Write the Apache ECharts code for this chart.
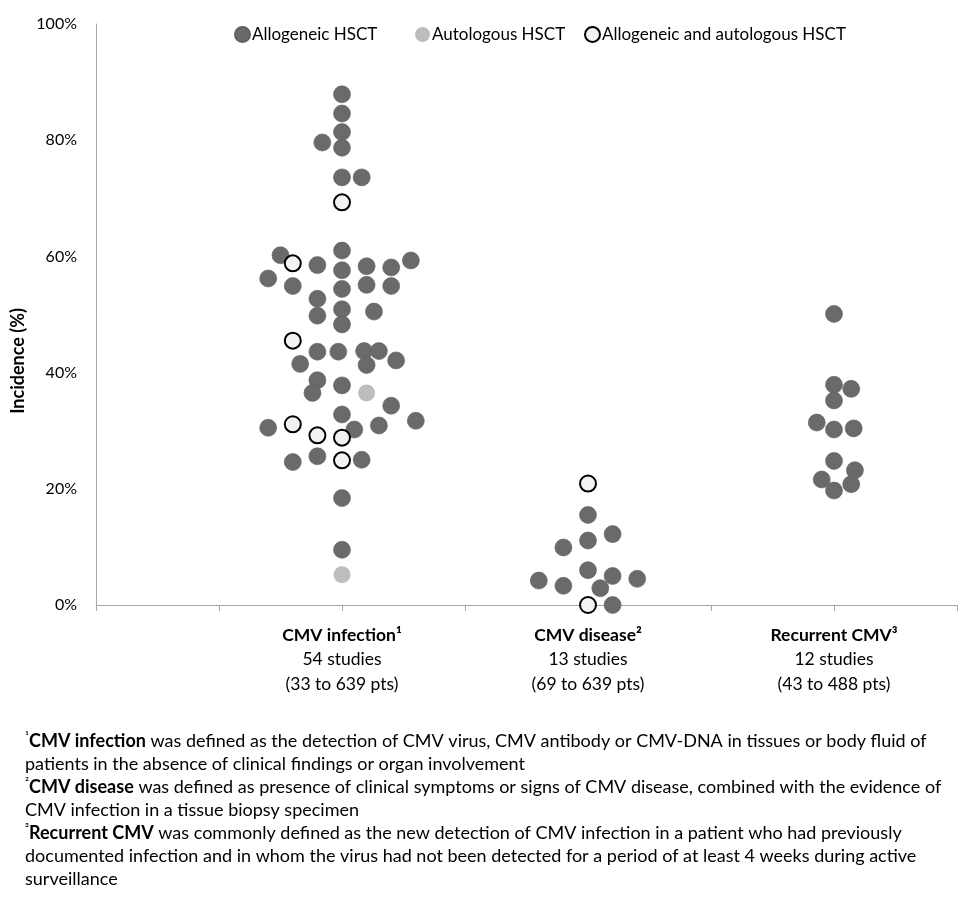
<!DOCTYPE html>
<html>
<head>
<meta charset="utf-8">
<script src="https://cdn.jsdelivr.net/npm/echarts@6/dist/echarts.min.js"></script>
<style>
html,body{margin:0;padding:0;background:#fff;}
#chart{width:976px;height:908px;}
</style>
</head>
<body>
<div id="chart"></div>
<script>
// ---- data (x = position on the beeswarm axis, y = incidence %) ----
const allogeneic = [
  // CMV infection
  [2.0,87.9],[2.0,84.6],[2.0,81.4],[1.84,79.6],[2.0,78.7],[2.0,73.6],[2.16,73.6],
  [2.0,61.0],[1.5,60.2],[1.8,58.5],[2.0,57.6],[2.2,58.3],[2.4,58.1],[2.56,59.3],
  [1.4,56.2],[1.6,54.9],[2.0,54.4],[2.2,55.1],[2.4,54.9],[1.8,52.7],[1.8,49.8],
  [2.0,50.9],[2.26,50.5],[2.0,48.3],[1.8,43.6],[1.97,43.6],[2.18,43.7],[2.3,43.7],
  [2.44,42.1],[1.66,41.5],[2.2,41.3],[1.8,38.7],[2.0,37.8],[1.76,36.5],[2.4,34.3],
  [2.0,32.8],[2.6,31.7],[1.4,30.5],[2.1,30.2],[2.3,30.9],[1.6,24.6],[1.8,25.6],
  [2.16,25.0],[2.0,18.4],[2.0,9.5],
  // CMV disease
  [4.0,15.5],[4.2,12.2],[4.0,11.1],[3.8,9.9],[4.0,6.0],[4.2,5.0],[3.6,4.2],
  [4.4,4.5],[3.8,3.3],[4.1,2.9],[4.2,0],
  // Recurrent CMV
  [6.0,50.1],[6.0,37.9],[6.14,37.2],[6.0,35.2],[5.86,31.4],[6.0,30.2],[6.16,30.4],
  [6.0,24.8],[6.17,23.2],[5.9,21.6],[6.14,20.8],[6.0,19.7]
];
const autologous = [[2.2,36.5],[2.0,5.2]];
const both = [
  [2.0,69.3],[1.6,58.8],[1.6,45.5],[1.6,31.1],[1.8,29.2],[2.0,28.8],[2.0,24.9],
  [4.0,20.9],[4.0,0]
];
const seriesNames = ['Allogeneic HSCT','Autologous HSCT','Allogeneic and autologous HSCT'];
const yTicks = [0,20,40,60,80,100];
const categories = [
  {x:2, title:'CMV infection\u00b9', n:'54 studies', range:'(33 to 639 pts)'},
  {x:4, title:'CMV disease\u00b2', n:'13 studies', range:'(69 to 639 pts)'},
  {x:6, title:'Recurrent CMV\u00b3', n:'12 studies', range:'(43 to 488 pts)'}
];
const footnotes = [
  [['\u00b9','sup'],['CMV infection','b'],[' was defined as the detection of CMV virus, CMV antibody or CMV-DNA in tissues or body fluid of','t']],
  [['patients in the absence of clinical findings or organ involvement','t']],
  [['\u00b2','sup'],['CMV disease','b'],[' was defined as presence of clinical symptoms or signs of CMV disease, combined with the evidence of','t']],
  [['CMV infection in a tissue biopsy specimen','t']],
  [['\u00b3','sup'],['Recurrent CMV','b'],[' was commonly defined as the new detection of CMV infection in a patient who had previously','t']],
  [['documented infection and in whom the virus had not been detected for a period of at least 4 weeks during active','t']],
  [['surveillance','t']]
];

const FONT = 'Lato';
const chart = echarts.init(document.getElementById('chart'));

const grid = {left:96, right:19, top:24, bottom:303};
const plotW = 976 - grid.left - grid.right;
const xMin = 0, xMax = 7;
function xPix(v){ return grid.left + (v - xMin) / (xMax - xMin) * plotW; }

const graphics = [];
graphics.push({
  type:'text', x:18, y:361, rotation:Math.PI/2,
  style:{text:'Incidence (%)', font:'bold 18px '+FONT, fill:'#000', align:'center', verticalAlign:'middle'}
});
categories.forEach(c => {
  graphics.push({
    type:'text', x:xPix(c.x), y:623,
    style:{
      text:'{b|'+c.title+'}\n{t|'+c.n+'}\n{t|'+c.range+'}',
      align:'center', verticalAlign:'top',
      rich:{
        b:{font:'bold 17.5px '+FONT, fill:'#000', lineHeight:24.5},
        t:{font:'17.5px '+FONT, fill:'#000', lineHeight:24.5}
      }
    }
  });
});
footnotes.forEach((line, i) => {
  const txt = line.map(s => '{'+s[1]+'|'+s[0].replace(/[{}|]/g,'')+'}').join('');
  graphics.push({
    type:'text', x:25, y:741 + i*23,
    style:{
      text:txt, verticalAlign:'middle', align:'left',
      rich:{
        sup:{font:'12px '+FONT, fill:'#000', verticalAlign:'top', padding:[0,0,7,0]},
        b:{font:'bold 18px '+FONT, fill:'#000'},
        t:{font:'18px '+FONT, fill:'#000'}
      }
    }
  });
});

function mkLegend(name, left){
  return {
    data:[name], left:left, top:21, orient:'horizontal',
    itemWidth:15, itemHeight:15, itemGap:0,
    textStyle:{fontFamily:FONT, fontSize:17, color:'#000', padding:[10,0,0,-3]},
    selectedMode:false
  };
}

chart.setOption({
  animation:false,
  backgroundColor:'#fff',
  grid:grid,
  legend:[mkLegend(seriesNames[0], 229), mkLegend(seriesNames[1], 410), mkLegend(seriesNames[2], 579)],
  xAxis:{
    type:'value', min:xMin, max:xMax, interval:1,
    axisLine:{show:true, lineStyle:{color:'#a6a6a6', width:1}},
    axisTick:{show:true, inside:false, length:6, lineStyle:{color:'#a6a6a6'}},
    axisLabel:{show:false}, splitLine:{show:false}
  },
  yAxis:{
    type:'value', min:yTicks[0], max:yTicks[yTicks.length-1], interval:20,
    axisLine:{show:true, lineStyle:{color:'#a6a6a6', width:1}},
    axisTick:{show:false},
    axisLabel:{formatter:'{value}%', fontFamily:FONT, fontSize:16, color:'#000', margin:19},
    splitLine:{show:false}
  },
  series:[
    {name:seriesNames[0], type:'scatter', data:allogeneic, symbol:'circle', symbolSize:17, clip:false,
     itemStyle:{color:'#6a6a6a', borderColor:'#5f5f5f', borderWidth:0.6, opacity:1}},
    {name:seriesNames[1], type:'scatter', data:autologous, symbol:'circle', symbolSize:17, clip:false,
     itemStyle:{color:'#bdbdbd', opacity:1}},
    {name:seriesNames[2], type:'scatter', data:both, symbol:'circle', symbolSize:16, clip:false, z:3,
     itemStyle:{color:'#f2f2f2', borderColor:'#000', borderWidth:2, opacity:1}}
  ],
  graphic:graphics
});
</script>
</body>
</html>
